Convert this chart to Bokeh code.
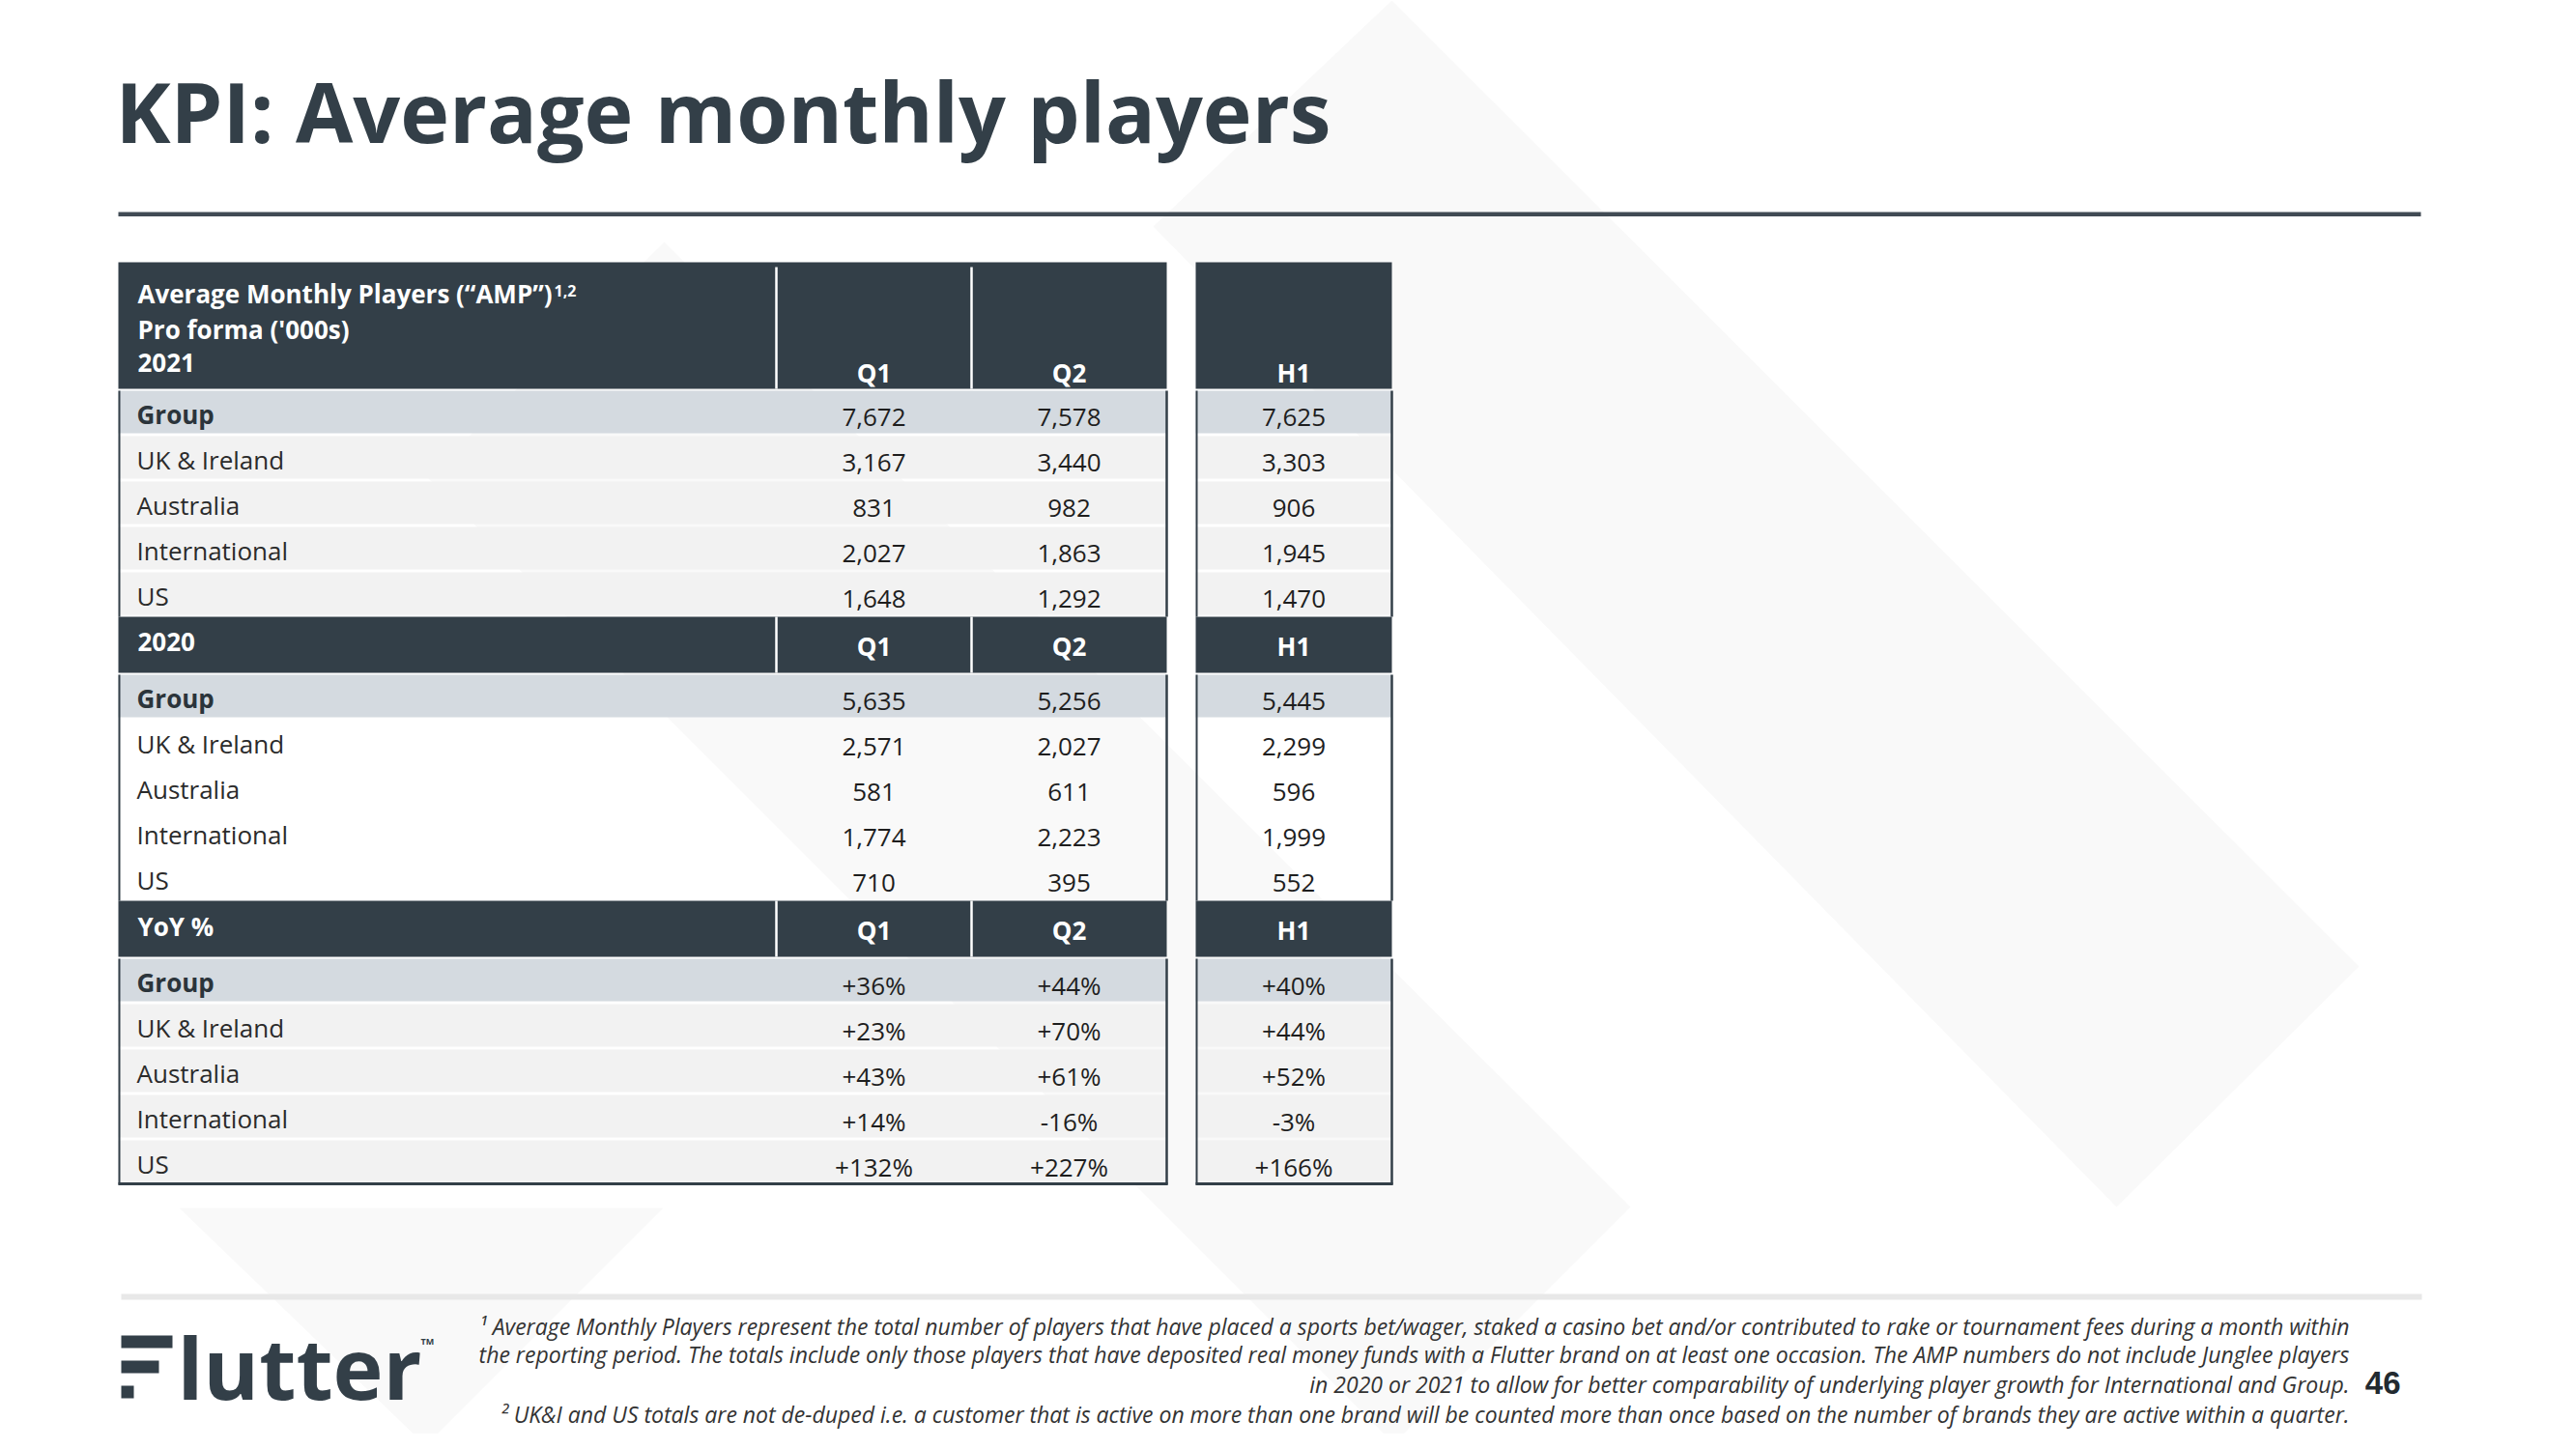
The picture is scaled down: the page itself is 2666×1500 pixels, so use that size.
from bokeh.plotting import figure
from bokeh.models import Range1d
from bokeh.embed import file_html
from bokeh.resources import INLINE
from bokeh.core.properties import value

# ---------------- data ----------------
title_text = "KPI: Average monthly players"
header_lines = ["Average Monthly Players (\u201cAMP\u201d)", "Pro forma ('000s)", "2021"]
header_sup = "1,2"
section_labels = ["2021", "2020", "YoY %"]
col_labels = ["Q1", "Q2", "H1"]
regions = ["Group", "UK & Ireland", "Australia", "International", "US"]

amp_2021_q1 = [7672, 3167, 831, 2027, 1648]
amp_2021_q2 = [7578, 3440, 982, 1863, 1292]
amp_2021_h1 = [7625, 3303, 906, 1945, 1470]

amp_2020_q1 = [5635, 2571, 581, 1774, 710]
amp_2020_q2 = [5256, 2027, 611, 2223, 395]
amp_2020_h1 = [5445, 2299, 596, 1999, 552]

yoy_q1 = [36, 23, 43, 14, 132]
yoy_q2 = [44, 70, 61, -16, 227]
yoy_h1 = [40, 44, 52, -3, 166]

footnotes = [
    "\u00b9 Average Monthly Players represent the total number of players that have placed a sports bet/wager, staked a casino bet and/or contributed to rake or tournament fees during a month within",
    "the reporting period. The totals include only those players that have deposited real money funds with a Flutter brand on at least one occasion. The AMP numbers do not include Junglee players",
    "in 2020 or 2021 to allow for better comparability of underlying player growth for International and Group.",
    "\u00b2 UK&I and US totals are not de-duped i.e. a customer that is active on more than one brand will be counted more than once based on the number of brands they are active within a quarter.",
]
page_number = "46"

# ---------------- styling ----------------
DARK = "#333F48"
GROUP_BG = "#D4DAE0"
ROW_BG = "#F2F2F2"
WM = "#F9F9F9"
TXT = "#1E1E1E"
FONT = "Open Sans"
MID = 0.37  # baseline -> middle offset (em)

W, H = 2650, 1484
p = figure(width=W, height=H, x_range=Range1d(0, W), y_range=Range1d(H, 0),
           output_backend="svg", toolbar_location=None, min_border=0,
           x_axis_location=None, y_axis_location=None)
p.grid.visible = False
p.outline_line_color = None
p.background_fill_color = "white"
p.border_fill_color = "white"


def mid(baseline, size):
    return baseline - MID * size


# background watermark shapes
p.patches(xs=[[1440, 2441, 2190, 1193], [687, 1687, 1442, 442], [185, 686, 440]],
          ys=[[0, 1000, 1249, 234], [250, 1249, 1494, 494], [1250, 1250, 1496]],
          fill_color=WM, line_color=None)

# title and rules
p.text(x=[119], y=[mid(146, 86)], text=[title_text], text_font=value(FONT), text_font_style="bold",
       text_font_size="86px", text_color=DARK, text_baseline="middle", text_align="left")
p.quad(left=[122], right=[2505], top=[219], bottom=[223.5], fill_color="#414B54", line_color=None)
p.quad(left=[125], right=[2506], top=[1339], bottom=[1345], fill_color="#E8E8E8", line_color=None)

# ---------------- table ----------------
X0, XQ1, XQ2, XQ2R, XH1L, XH1R = 122, 803, 1005, 1207, 1237, 1440
col_centers = [(XQ1 + XQ2) / 2, (XQ2 + XQ2R) / 2, (XH1L + XH1R) / 2]
PITCH, ROWH = 47, 44
HS, DS = 26, 26  # header / data font sizes


def fmt_num(v):
    return f"{v:,}"


def fmt_pct(v):
    return f"{v:+d}%"


sections = [
    dict(hh=131, vals=[amp_2021_q1, amp_2021_q2, amp_2021_h1], fmt=fmt_num, fill=ROW_BG),
    dict(hh=58, vals=[amp_2020_q1, amp_2020_q2, amp_2020_h1], fmt=fmt_num, fill=None),
    dict(hh=58, vals=[yoy_q1, yoy_q2, yoy_h1], fmt=fmt_pct, fill=ROW_BG),
]

hq = dict(l=[], r=[], t=[], b=[])
rq = dict(l=[], r=[], t=[], b=[], c=[])
sep = dict(x0=[], y0=[], x1=[], y1=[])
bord = dict(x0=[], y0=[], x1=[], y1=[], w=[])
hdr_txt = dict(x=[], y=[], t=[])
hdr_ctr = dict(x=[], y=[], t=[])
lab_b = dict(x=[], y=[], t=[])
lab_r = dict(x=[], y=[], t=[])
nums = dict(x=[], y=[], t=[])

top = 271
for si, s in enumerate(sections):
    hb = top + s["hh"]
    hq["l"] += [X0, XH1L]; hq["r"] += [XQ2R, XH1R]; hq["t"] += [top, top]; hq["b"] += [hb, hb]
    stop = top + (5 if si == 0 else 0)
    for xs in (XQ1, XQ2):
        sep["x0"].append(xs); sep["x1"].append(xs); sep["y0"].append(stop); sep["y1"].append(hb)
    if si == 0:
        for txt, yb in zip(header_lines, [313, 350, 385]):
            hdr_txt["x"].append(142); hdr_txt["y"].append(mid(yb, HS)); hdr_txt["t"].append(txt)
        qb = hb - 7
    else:
        hdr_txt["x"].append(142); hdr_txt["y"].append(mid(hb - 22, HS)); hdr_txt["t"].append(section_labels[si])
        qb = hb - 18
    for ci, c in enumerate(col_labels):
        hdr_ctr["x"].append(col_centers[ci]); hdr_ctr["y"].append(mid(qb, HS)); hdr_ctr["t"].append(c)
    r0 = hb + 2
    for ri, reg in enumerate(regions):
        rt = r0 + ri * PITCH
        rb = rt + ROWH
        fill = GROUP_BG if ri == 0 else s["fill"]
        if fill is not None:
            rq["l"] += [X0, XH1L]; rq["r"] += [XQ2R, XH1R]; rq["t"] += [rt, rt]
            rq["b"] += [rb, rb]; rq["c"] += [fill, fill]
        d = lab_b if ri == 0 else lab_r
        d["x"].append(141); d["y"].append(mid(rb - 10, DS)); d["t"].append(reg)
        for ci in range(3):
            nums["x"].append(col_centers[ci]); nums["y"].append(mid(rb - 7, DS))
            nums["t"].append(s["fmt"](s["vals"][ci][ri]))
    rend = r0 + 4 * PITCH + ROWH
    for xb, w in ((X0 + 1, 2), (XQ2R, 2.5), (XH1L + 1, 2), (XH1R, 2.5)):
        bord["x0"].append(xb); bord["x1"].append(xb); bord["y0"].append(r0); bord["y1"].append(rend + 2)
        bord["w"].append(w)
    top = rend + 2

table_bottom = top - 1
bord["x0"] += [X0, XH1L]; bord["x1"] += [XQ2R + 1, XH1R + 1]
bord["y0"] += [table_bottom, table_bottom]; bord["y1"] += [table_bottom, table_bottom]; bord["w"] += [3, 3]

p.quad(left=rq["l"], right=rq["r"], top=rq["t"], bottom=rq["b"], fill_color=rq["c"], line_color=None)
p.quad(left=hq["l"], right=hq["r"], top=hq["t"], bottom=hq["b"], fill_color=DARK, line_color=None)
p.segment(x0=sep["x0"], y0=sep["y0"], x1=sep["x1"], y1=sep["y1"], line_color="white", line_width=2.5)
p.segment(x0=bord["x0"], y0=bord["y0"], x1=bord["x1"], y1=bord["y1"], line_color=DARK, line_width=bord["w"])

p.text(x=hdr_txt["x"], y=hdr_txt["y"], text=hdr_txt["t"], text_font=value(FONT), text_font_style="bold",
       text_font_size=f"{HS}px", text_color="white", text_baseline="middle", text_align="left")
p.text(x=[573], y=[mid(306, 16)], text=[header_sup], text_font=value(FONT), text_font_style="bold",
       text_font_size="16px", text_color="white", text_baseline="middle", text_align="left")
p.text(x=hdr_ctr["x"], y=hdr_ctr["y"], text=hdr_ctr["t"], text_font=value(FONT), text_font_style="bold",
       text_font_size=f"{HS}px", text_color="white", text_baseline="middle", text_align="center")
p.text(x=lab_b["x"], y=lab_b["y"], text=lab_b["t"], text_font=value(FONT), text_font_style="bold",
       text_font_size=f"{DS}px", text_color="#2B343B", text_baseline="middle", text_align="left")
p.text(x=lab_r["x"], y=lab_r["y"], text=lab_r["t"], text_font=value(FONT),
       text_font_size=f"{DS}px", text_color="#2B2B2B", text_baseline="middle", text_align="left")
p.text(x=nums["x"], y=nums["y"], text=nums["t"], text_font=value(FONT),
       text_font_size=f"{DS}px", text_color=TXT, text_baseline="middle", text_align="center")

# ---------------- footer ----------------
p.quad(left=[125, 125, 125], right=[178, 164, 138], top=[1382, 1408, 1434], bottom=[1395, 1421, 1447],
       fill_color=DARK, line_color=None)
p.text(x=[183], y=[mid(1447, 88)], text=["lutter"], text_font=value(FONT), text_font_style="bold",
       text_font_size="88px", text_color=DARK, text_baseline="middle", text_align="left")
p.text(x=[435], y=[1388], text=["TM"], text_font=value(FONT), text_font_style="bold",
       text_font_size="9px", text_color=DARK, text_baseline="middle", text_align="left")
p.text(x=[2431] * 4, y=[mid(b, 23) for b in (1381, 1410, 1441, 1472)], text=footnotes, text_font=value(FONT),
       text_font_style="italic", text_font_size="23px", text_color="#333333",
       text_baseline="middle", text_align="right")
p.text(x=[2484], y=[mid(1443, 33)], text=[page_number], text_font=value("Liberation Sans"), text_font_style="bold",
       text_font_size="33px", text_color="#222A30", text_baseline="middle", text_align="right")

open("out.html", "w").write(file_html(p, INLINE))
